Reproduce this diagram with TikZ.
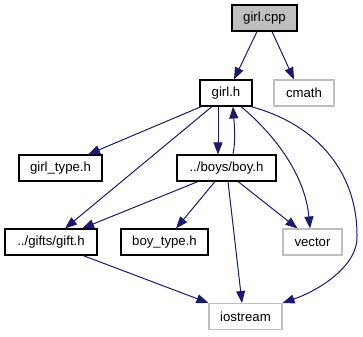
\documentclass[tikz,border=0pt]{standalone}
\usepackage{fontspec}
\setmainfont{Liberation Sans}
\usetikzlibrary{arrows.meta,calc}
\definecolor{edgeblue}{HTML}{191970}
\definecolor{extgray}{HTML}{BFBFBF}
\definecolor{rootfill}{HTML}{BFBFBF}
\begin{document}
\begin{tikzpicture}[x=0.75pt,y=-0.75pt,
  filebox/.style={draw=black,line width=0.8pt,fill=white,inner sep=0pt,
    minimum height=26*0.75pt,font=\fontsize{9.9pt}{11pt}\selectfont},
  rootbox/.style={filebox,fill=rootfill},
  sysbox/.style={filebox,draw=extgray},
  dep/.style={draw=edgeblue,line width=0.75pt,
    -{Triangle[length=12*0.75pt,width=9*0.75pt]}}]
\useasboundingbox (0,0) rectangle (363,336);

% files
\node[rootbox,minimum width=65*0.75pt] (girlcpp) at (264.5,18) {girl.cpp};
\node[filebox,minimum width=52*0.75pt] (girlh) at (226,93) {girl.h};
\node[sysbox,minimum width=60*0.75pt] (cmath) at (304,93) {cmath};
\node[filebox,minimum width=83*0.75pt] (girltype) at (60.5,168) {girl\_type.h};
\node[filebox,minimum width=99*0.75pt] (boyh) at (226.5,168) {../boys/boy.h};
\node[filebox,minimum width=92*0.75pt] (gift) at (51,242) {../gifts/gift.h};
\node[filebox,minimum width=87*0.75pt] (boytype) at (164.5,242) {boy\_type.h};
\node[sysbox,minimum width=59*0.75pt] (vector) at (312.5,242) {vector};
\node[sysbox,minimum width=73*0.75pt] (iostream) at (245.5,316.5) {iostream};

% includes
\draw[dep] ($(girlcpp.south)+(-7.5,0)$) -- ($(girlh.north)+(8,0)$);
\draw[dep] ($(girlcpp.south)+(7.5,0)$) -- ($(cmath.north)+(-10,0)$);
\draw[dep] ($(girlh.south west)+(2,0)$) -- ($(girltype.north)+(27.5,0)$);
\draw[dep] ($(girlh.south)+(-14,0)$) -- ($(gift.north)+(14,0)$);
\draw[dep] ($(girlh.south)+(-8,0)$) -- ($(boyh.north)+(-8.5,0)$);
\draw[dep] ($(boyh.north)+(6.5,0)$) .. controls ($(boyh.north)+(9.5,-15)$)
  and ($(girlh.south)+(8,15)$) .. ($(girlh.south)+(7,0)$);
\draw[dep] ($(girlh.south)+(15,0)$) .. controls (275,135) and (305,175)
  .. ($(vector.north)+(-2.5,0)$);
\draw[dep] ($(girlh.south east)+(-2,0)$) .. controls (320,125) and (357,175)
  .. (357,235) .. controls (359,265) and (320,290) .. (iostream.north east);
\draw[dep] ($(boyh.south)+(-28.5,0)$) -- ($(gift.north)+(31,0)$);
\draw[dep] ($(boyh.south)+(-11.5,0)$) -- ($(boytype.north)+(11.5,0)$);
\draw[dep] ($(boyh.south)+(11.5,0)$) -- ($(vector.north)+(-15,0)$);
\draw[dep] ($(boyh.south)+(1.5,0)$) -- ($(iostream.north)+(-3.5,0)$);
\draw[dep] ($(gift.south)+(32,0)$) -- (iostream.north west);
\end{tikzpicture}
\end{document}
